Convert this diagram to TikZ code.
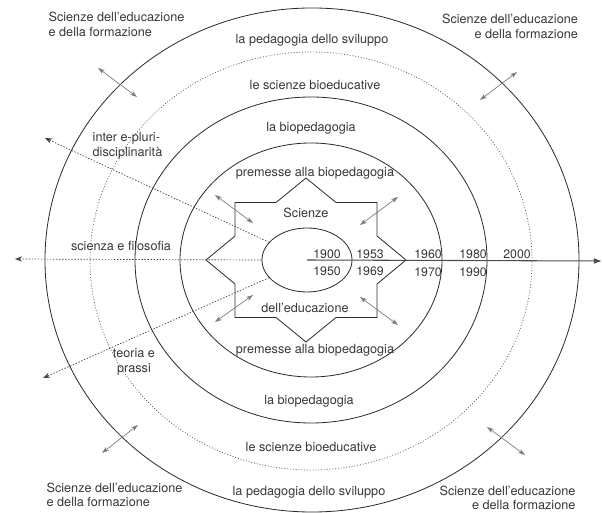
\documentclass[tikz,border=0pt]{standalone}
\usepackage{fontspec}
\setmainfont{TeX Gyre Heros}
\usetikzlibrary{arrows.meta, shapes.geometric}
\definecolor{ringink}{RGB}{45,45,45}
\definecolor{linkgray}{RGB}{125,125,125}
\definecolor{textgray}{RGB}{55,55,55}

\begin{document}
\begin{tikzpicture}[x=0.03cm, y=-0.03cm,
  ring/.style={ellipse, draw=ringink, line width=0.7pt, inner sep=0pt},
  dotring/.style={ring, draw=ringink!80, line width=0.6pt, dash pattern=on 0.8pt off 1.6pt},
  starline/.style={draw=ringink, line width=0.7pt, line join=miter},
  lbl/.style={font=\fontsize{10.8}{12.5}\selectfont, text=textgray, inner sep=1pt},
  yr/.style={lbl, font=\fontsize{10.5}{12}\selectfont},
  ray/.style={draw=ringink!90, line width=0.6pt, dash pattern=on 1.2pt off 1.4pt, -{Stealth[length=6pt,width=4.5pt]}},
  link/.style={draw=linkgray, line width=0.6pt, {Stealth[length=6pt,width=4pt]}-{Stealth[length=6pt,width=4pt]}},
  axis/.style={draw=ringink!85, line width=0.9pt, -{Latex[length=7pt,width=5pt]}}
]
\useasboundingbox (0,0) rectangle (603,513);

% rings
\node[ring, minimum width=16.02cm, minimum height=15.12cm] (outer) at (312,260) {};
\node[dotring, minimum width=13.26cm, minimum height=12.54cm] (bioedu) at (311,261) {};
\node[ring, minimum width=10.56cm, minimum height=9.78cm] (biopeda) at (311,260) {};
\node[ring, minimum width=7.86cm, minimum height=7.02cm] (premesse) at (311,260) {};

% star
\draw[starline] (306,178) -- (336,202.5) -- (377,202.5) -- (377,236) -- (406,260)
  -- (377,284) -- (377,317.5) -- (336,317.5) -- (306,342) -- (276,317.5)
  -- (235,317.5) -- (235,284) -- (206,260) -- (235,236) -- (235,202.5)
  -- (276,202.5) -- cycle;

\node[ring, fill=white, minimum width=2.7cm, minimum height=1.92cm] (core) at (307,260) {};

% labels
\node[lbl, align=left] (sef-tl) at (116.5,24.5) {Scienze dell'educazione\\e della formazione};
\node[lbl, align=right] (sef-tr) at (510,26.5) {Scienze dell'educazione\\e della formazione};
\node[lbl, align=left] (sef-bl) at (114.5,495) {Scienze dell'educazione\\e della formazione};
\node[lbl, align=right] (sef-br) at (507.5,498) {Scienze dell'educazione\\e della formazione};

\node[lbl] (svil-top) at (312,40) {la pedagogia dello sviluppo};
\node[lbl] (bioedu-top) at (315,85) {le scienze bioeducative};
\node[lbl] (biop-top) at (311,128) {la biopedagogia};
\node[lbl] (prem-top) at (315,173) {premesse alla biopedagogia};
\node[lbl] (scienze) at (306,213) {Scienze};
\node[lbl] (educ) at (305,308) {dell'educazione};
\node[lbl] (prem-bot) at (315,350) {premesse alla biopedagogia};
\node[lbl] (biop-bot) at (309,401) {la biopedagogia};
\node[lbl] (bioedu-bot) at (311,447) {le scienze bioeducative};
\node[lbl] (svil-bot) at (309,492) {la pedagogia dello sviluppo};

\node[lbl, align=left] (inter) at (127.5,146) {inter e-pluri-\\disciplinarità};
\node[lbl] (filo) at (121,246) {scienza e filosofia};
\node[lbl, align=center] (prassi) at (134,362) {teoria e\\prassi};

% time axis
\coordinate (axisend) at (602,261);
\draw[axis] (core.center) -- (axisend);
\foreach \yrname/\x/\y in {1900/327/254, 1953/370/254, 1950/327/271, 1969/370/271,
    1960/428/254, 1970/428/272, 1980/473/254, 1990/473/272, 2000/517/254}
  \node[yr] (y\yrname) at (\x,\y) {\yrname};

% dotted rays
\coordinate (tip-inter) at (45,138);
\coordinate (tip-filo) at (15,259);
\coordinate (tip-prassi) at (43,378);
\draw[ray] (core.155) -- (tip-inter);
\draw[ray] (core.west) -- (tip-filo);
\draw[ray] (core.205) -- (tip-prassi);

% exchange arrows
\foreach \i/\ax/\ay/\bx/\by in {1/98/68/137/97, 2/480/100/517/72, 3/102/453/138/425,
    4/487/427/525/455, 5/215/195/253/223, 6/360/225/398/197, 7/215/322/253/295,
    8/360/297/398/325} {
  \coordinate (p\i) at (\ax,\ay);
  \coordinate (q\i) at (\bx,\by);
  \draw[link] (p\i) -- (q\i);
}

\end{tikzpicture}
\end{document}
